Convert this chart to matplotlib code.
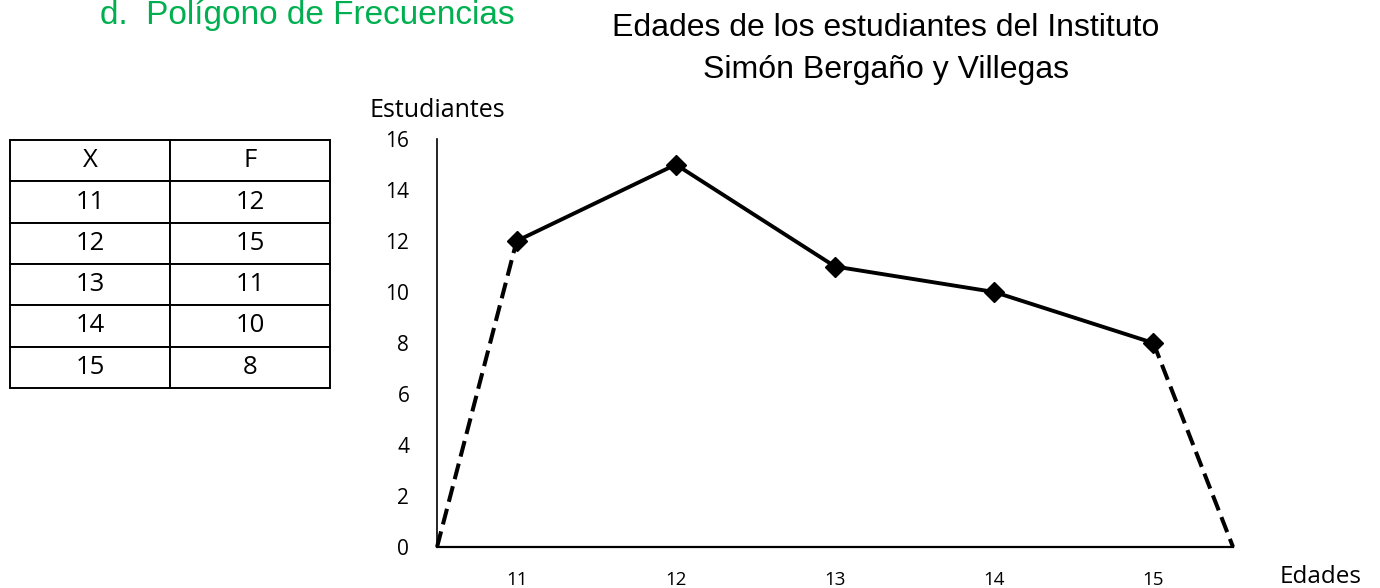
import matplotlib
matplotlib.use("Agg")
import matplotlib.pyplot as plt

# Data
edades = [11, 12, 13, 14, 15]
estudiantes = [12, 15, 11, 10, 8]
# closing points of the polygon (half a class outside each end)
inicio = (10.5, 0)
fin = (15.5, 0)
y_ticks = [0, 2, 4, 6, 8, 10, 12, 14, 16]

fig = plt.figure(figsize=(13.8, 5.88), dpi=100)

# green heading at the top left
fig.text(0.0725, 1.0, "d.  Polígono de Frecuencias", color="#00B050",
         fontsize=24, family="Liberation Sans", ha="left", va="top")

# chart title
fig.text(0.642, 0.916, "Edades de los estudiantes del Instituto\nSimón Bergaño y Villegas",
         fontsize=23, family="Liberation Sans", ha="center", va="center",
         linespacing=1.52)

# main axes
ax = fig.add_axes([0.3167, 0.0697, 0.5768, 0.6939])
ax.plot(edades, estudiantes, color="black", linewidth=2.8, marker="D",
        markersize=10, zorder=3)
ax.plot([inicio[0], edades[0]], [inicio[1], estudiantes[0]], color="black",
        linewidth=2.9, linestyle=(0, (4, 1.8)), zorder=2)
ax.plot([edades[-1], fin[0]], [estudiantes[-1], fin[1]], color="black",
        linewidth=2.9, linestyle=(0, (4, 1.8)), zorder=2)

ax.set_xlim(10.5, 15.5)
ax.set_ylim(0, 16)
ax.set_xticks(edades)
ax.set_xticklabels([str(e) for e in edades], family="Open Sans", fontsize=13.5)
ax.set_yticks(y_ticks)
ax.set_yticklabels([str(t) for t in y_ticks], family="Open Sans", fontsize=15)
ax.tick_params(axis="x", length=0, pad=17)
ax.tick_params(axis="y", length=0, pad=20)
for s in ["top", "right"]:
    ax.spines[s].set_visible(False)
ax.spines["left"].set_linewidth(1.2)
ax.spines["bottom"].set_linewidth(1.6)
for ln in ax.lines:
    ln.set_clip_on(False)

fig.text(0.268, 0.812, "Estudiantes", family="Open Sans", fontsize=18,
         ha="left", va="center")
fig.text(0.927, 0.018, "Edades", family="Open Sans", fontsize=17.5,
         ha="left", va="center")

# frequency table
tax = fig.add_axes([10 / 1380, 1 - 388 / 588, 320 / 1380, 248 / 588])
tax.axis("off")
cells = [["X", "F"]] + [[str(e), str(f)] for e, f in zip(edades, estudiantes)]
tabla = tax.table(cellText=cells, loc="center", cellLoc="center",
                  bbox=[0, 0, 1, 1])
tabla.auto_set_font_size(False)
for (r, c), cell in tabla.get_celld().items():
    cell.set_linewidth(1.4)
    cell.get_text().set_fontfamily("Open Sans")
    cell.get_text().set_fontsize(18.5)

fig.savefig("out.png", dpi=100)
